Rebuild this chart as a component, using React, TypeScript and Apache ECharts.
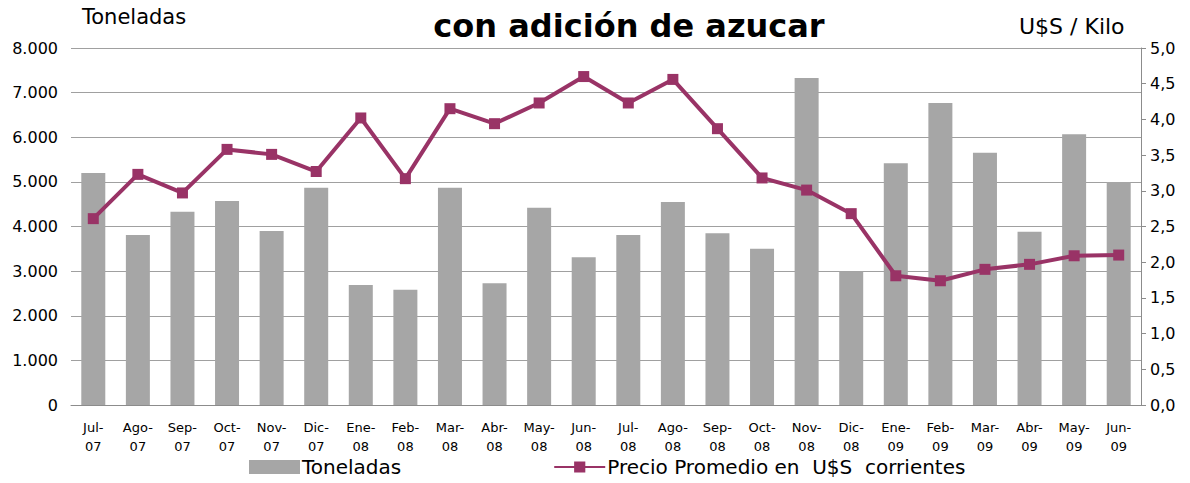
import React, { useEffect, useRef } from "react";
import * as echarts from "echarts";

const categories = [
  "Jul-\n07", "Ago-\n07", "Sep-\n07", "Oct-\n07", "Nov-\n07", "Dic-\n07",
  "Ene-\n08", "Feb-\n08", "Mar-\n08", "Abr-\n08", "May-\n08", "Jun-\n08",
  "Jul-\n08", "Ago-\n08", "Sep-\n08", "Oct-\n08", "Nov-\n08", "Dic-\n08",
  "Ene-\n09", "Feb-\n09", "Mar-\n09", "Abr-\n09", "May-\n09", "Jun-\n09",
];

const toneladas = [
  5200, 3810, 4330, 4570, 3900, 4870,
  2690, 2580, 4870, 2730, 4420, 3310,
  3810, 4550, 3850, 3500, 7330, 3000,
  5420, 6770, 5650, 3880, 6070, 5000,
];

const precio = [
  2.61, 3.23, 2.97, 3.58, 3.51, 3.27,
  4.02, 3.17, 4.15, 3.94, 4.23, 4.60,
  4.23, 4.56, 3.87, 3.18, 3.01, 2.68,
  1.81, 1.74, 1.90, 1.97, 2.09, 2.10,
];

const FONT = "DejaVu Sans";

export default function App() {
  const ref = useRef<HTMLDivElement>(null);
  useEffect(() => {
    if (!ref.current) return;
    const chart = echarts.init(ref.current, null, { renderer: "svg" });
    chart.setOption({
      animation: false,
      textStyle: { fontFamily: FONT },
      title: {
        text: "con adición de azucar",
        left: 624,
        textAlign: "center",
        top: 5,
        textStyle: { fontFamily: FONT, fontSize: 32, fontWeight: "bold", color: "#000" },
      },
      graphic: [
        { type: "text", left: 82, top: 6, style: { text: "Toneladas", font: `21px ${FONT}`, fill: "#000" } },
        { type: "text", left: 1019, top: 15, style: { text: "U$S / Kilo", font: `22px ${FONT}`, fill: "#000" } },
      ],
      legend: {
        left: 244,
        bottom: 1,
        itemWidth: 51,
        itemHeight: 14,
        itemGap: 152,
        textStyle: { fontFamily: FONT, fontSize: 20, color: "#000", padding: [0, 0, 0, -3] },
        data: [
          { name: "Toneladas", icon: "rect" },
          { name: "Precio Promedio en  U$S  corrientes" },
        ],
      },
      grid: { left: 71, right: 49, top: 48, bottom: 78, containLabel: false },
      xAxis: {
        type: "category",
        data: categories,
        axisLine: { lineStyle: { color: "#8c8c8c", width: 1 } },
        axisTick: { show: false },
        axisLabel: { fontFamily: FONT, fontSize: 13, color: "#000", lineHeight: 19, margin: 13, interval: 0 },
      },
      yAxis: [
        {
          type: "value",
          min: 0,
          max: 8000,
          interval: 1000,
          axisLine: { show: false },
          axisTick: { show: false },
          splitLine: { lineStyle: { color: "#a0a0a0", width: 1 } },
          axisLabel: {
            fontFamily: FONT,
            fontSize: 16,
            color: "#000",
            margin: 13,
            formatter: (v: number) => v.toLocaleString("de-DE"),
          },
        },
        {
          type: "value",
          min: 0,
          max: 5,
          interval: 0.5,
          position: "right",
          axisLine: { show: true, lineStyle: { color: "#8c8c8c" } },
          axisTick: { show: true, length: 5, lineStyle: { color: "#8c8c8c" } },
          splitLine: { show: false },
          axisLabel: {
            fontFamily: FONT,
            fontSize: 16,
            color: "#000",
            margin: 9,
            formatter: (v: number) => v.toFixed(1).replace(".", ","),
          },
        },
      ],
      series: [
        {
          name: "Toneladas",
          type: "bar",
          data: toneladas,
          barWidth: 24,
          itemStyle: { color: "#a6a6a6" },
          yAxisIndex: 0,
        },
        {
          name: "Precio Promedio en  U$S  corrientes",
          type: "line",
          data: precio,
          yAxisIndex: 1,
          symbol: "rect",
          symbolSize: 11,
          lineStyle: { color: "#993366", width: 4 },
          itemStyle: { color: "#993366" },
        },
      ],
    });
    return () => chart.dispose();
  }, []);
  return <div ref={ref} style={{ width: 1190, height: 483, position: "absolute", left: 0, top: 0 }} />;
}
